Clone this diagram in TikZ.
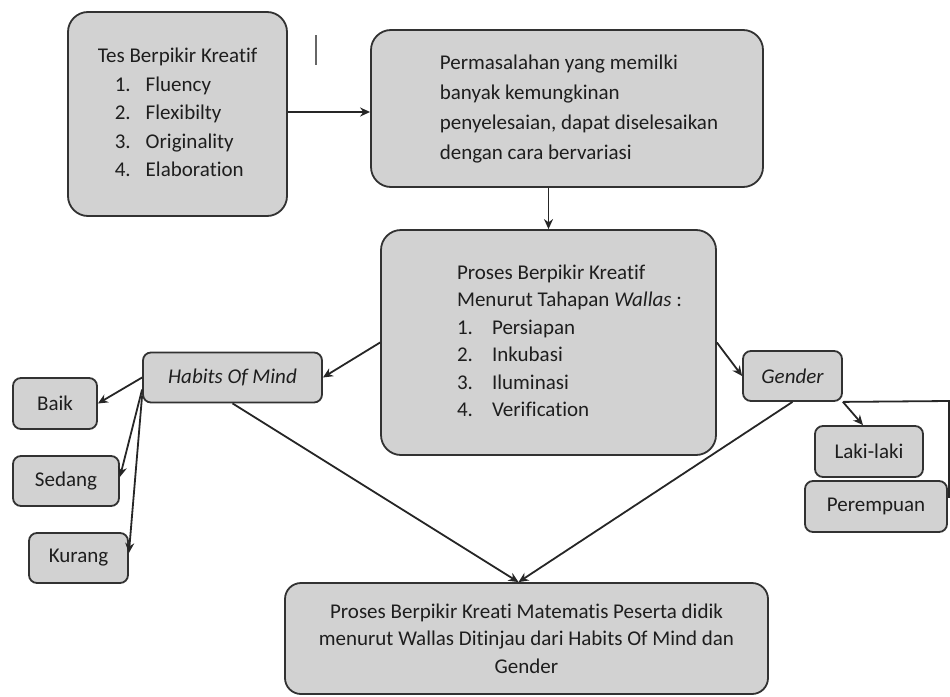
\documentclass[tikz,border=0pt]{standalone}
\usepackage{fontspec}
\setmainfont[Ligatures=NoCommon]{Carlito}
\usetikzlibrary{arrows.meta}
\definecolor{boxgray}{RGB}{210,210,210}
\definecolor{boxline}{RGB}{50,50,50}
\definecolor{inkgray}{RGB}{30,30,30}
\begin{document}
\begin{tikzpicture}[x=1pt,y=-1pt]
	\tikzstyle{every node}=[font=\fontsize{21pt}{28.5pt}\selectfont, text=inkgray]
	\tikzstyle{bigbox}=[draw=boxline, fill=boxgray, line width=1.8pt, rounded corners=20pt, inner sep=0pt]
	\tikzstyle{smallbox}=[draw=boxline, fill=boxgray, line width=1.8pt, rounded corners=8pt, inner sep=0pt, minimum height=50pt]
	\tikzstyle{arr}=[line width=1.8pt, draw=black!85, -{Stealth[length=10pt,width=9pt]}]
	\useasboundingbox (0,0) rectangle (950,696);

	\node [bigbox, minimum width=219pt, minimum height=204pt] (tes) at (177.5,114) {\begin{tabular}{@{}l@{}}Tes Berpikir Kreatif\\
		\hspace*{17pt}\makebox[31pt][l]{1.}Fluency\\
		\hspace*{17pt}\makebox[31pt][l]{2.}Flexibilty\\
		\hspace*{17pt}\makebox[31pt][l]{3.}Originality\\
		\hspace*{17pt}\makebox[31pt][l]{4.}Elaboration\end{tabular}};
	\node [bigbox, minimum width=392pt, minimum height=157pt, font=\fontsize{21pt}{30pt}\selectfont] (masalah) at (567,108.5) {\begin{tabular}{@{\hspace{24pt}}l@{}}Permasalahan yang memilki\\
		banyak kemungkinan\\
		penyelesaian, dapat diselesaikan\\
		dengan cara bervariasi\end{tabular}};
	\node [bigbox, minimum width=335pt, minimum height=225pt, font=\fontsize{21pt}{27.5pt}\selectfont] (wallas) at (548.5,342.5) {\begin{tabular}{@{\hspace{42pt}}l@{}}Proses Berpikir Kreatif\\
		Menurut Tahapan \textit{Wallas} :\\
		\makebox[35pt][l]{1.}Persiapan\\
		\makebox[35pt][l]{2.}Inkubasi\\
		\makebox[35pt][l]{3.}Iluminasi\\
		\makebox[35pt][l]{4.}Verification\end{tabular}};
	\node [bigbox, rounded corners=16pt, minimum width=483pt, minimum height=111pt, align=center, font=\fontsize{21pt}{27.5pt}\selectfont] (hasil) at (526.5,638.5) {Proses Berpikir Kreati Matematis Peserta didik\\
		menurut Wallas Ditinjau dari Habits Of Mind dan\\
		Gender};

	\node [smallbox, minimum width=179pt, font=\fontsize{21pt}{24pt}\selectfont\itshape] (hom) at (232.5,377.5) {Habits Of Mind};
	\node [smallbox, minimum width=84pt, minimum height=51pt] (baik) at (55,403.5) {Baik};
	\node [smallbox, minimum width=106pt] (sedang) at (66,481) {Sedang};
	\node [smallbox, minimum width=99pt] (kurang) at (78.5,558) {Kurang};

	\node [smallbox, minimum width=99pt, font=\fontsize{21pt}{24pt}\selectfont\itshape] (gender) at (792.5,376) {Gender};
	\node [smallbox, minimum width=108pt, minimum height=51pt] (laki) at (869,451.5) {Laki-laki};
	\node [smallbox, minimum width=142pt, minimum height=51pt] (puan) at (876,506.5) {Perempuan};

	\draw [line width=1.2pt, draw=black!60] (316,35) -- (316,65);

	\draw [arr] (tes.east |- 0,112) -- (masalah.west |- 0,112);
	\draw [arr] (wallas.north |- masalah.south) -- (wallas.north);
	\draw [arr] (wallas.west) -- (hom.east);
	\draw [arr] (wallas.east) -- (gender.west);

	\draw [arr] (hom.west) -- (baik.east);
	\draw [arr] ([yshift=-12pt]hom.west) -- ([yshift=4pt]sedang.east);
	\draw [arr] ([yshift=-18pt]hom.west) -- ([yshift=5pt]kurang.east);

	\draw [arr] (gender.south east) -- ([xshift=-6pt]laki.north);
	\coordinate (tepi) at (949,401);
	\draw [arr] (gender.south east) -- (tepi) |- ([yshift=9.5pt]puan.east);

	\draw [arr] (hom.south) -- ([xshift=-8pt]hasil.north);
	\draw [arr] (gender.south) -- ([xshift=-8pt]hasil.north);
\end{tikzpicture}
\end{document}
